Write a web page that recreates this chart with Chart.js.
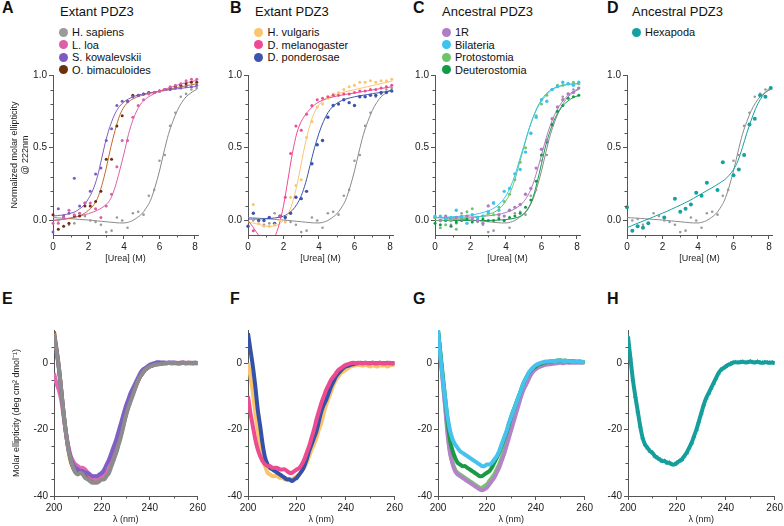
<!DOCTYPE html>
<html><head><meta charset="utf-8">
<script src="https://cdn.jsdelivr.net/npm/chart.js@4/dist/chart.umd.min.js"></script>
<style>
html,body{margin:0;padding:0;background:#fff;}
body{width:784px;height:526px;position:relative;overflow:hidden;font-family:"Liberation Sans",Arial,Helvetica,sans-serif;color:#111;}
canvas{position:absolute;}
.pl{position:absolute;font-weight:bold;font-size:16px;line-height:16px;}
.pt{position:absolute;font-size:13px;line-height:13px;white-space:nowrap;}
.lg{position:absolute;font-size:11px;line-height:12px;height:12px;display:flex;align-items:center;white-space:nowrap;}
.lg i{display:inline-block;width:9px;height:9px;border-radius:50%;margin-right:4.5px;}
</style></head><body>
<div class="pl" style="left:2px;top:0">A</div>
<div class="pl" style="left:230px;top:0">B</div>
<div class="pl" style="left:413px;top:0">C</div>
<div class="pl" style="left:607px;top:0">D</div>
<div class="pl" style="left:2px;top:291px">E</div>
<div class="pl" style="left:230px;top:291px">F</div>
<div class="pl" style="left:413px;top:291px">G</div>
<div class="pl" style="left:607px;top:291px">H</div>
<div class="pt" style="left:60px;top:5px">Extant PDZ3</div>
<div class="pt" style="left:255px;top:5px">Extant PDZ3</div>
<div class="pt" style="left:442px;top:5px">Ancestral PDZ3</div>
<div class="pt" style="left:632px;top:5px">Ancestral PDZ3</div>
<div id="legends"></div>
<canvas id="cA" width="208" height="200" style="left:0;top:67px"></canvas>
<canvas id="cB" width="190" height="200" style="left:213px;top:67px"></canvas>
<canvas id="cC" width="190" height="200" style="left:400px;top:67px"></canvas>
<canvas id="cD" width="190" height="200" style="left:592px;top:67px"></canvas>
<canvas id="cE" width="208" height="204" style="left:0;top:322px"></canvas>
<canvas id="cF" width="192" height="204" style="left:213px;top:322px"></canvas>
<canvas id="cG" width="192" height="204" style="left:403px;top:322px"></canvas>
<canvas id="cH" width="192" height="204" style="left:593px;top:322px"></canvas>
<script>
// ---------- DATA ----------
const ureaPts = [0,0.3,0.6,0.9,1.2,1.5,1.8,2.1,2.4,2.7,3.0,3.3,3.6,3.9,4.2,4.5,4.8,5.1,5.4,5.7,6.0,6.3,6.6,6.9,7.2,7.5,7.8,8.1];
const hSapiensPts = [null,0.0,0.01,-0.03,-0.02,0.05,0.03,0.0,-0.01,-0.03,-0.08,-0.07,0.02,0.0,-0.05,0.05,0.06,0.04,0.17,0.21,0.41,0.45,0.65,0.74,0.85,0.87,0.9,0.91];
const lLoaPts = [-0.02,-0.02,0.02,0.07,0.04,0.05,0.12,0.12,0.08,0.02,0.1,0.18,0.37,0.55,0.55,0.71,0.79,0.83,0.87,0.88,0.89,0.9,0.92,0.93,0.94,0.96,0.97,0.97];
const sKowPts = [-0.08,0.08,0.03,0.05,0.29,0.1,0.12,0.2,0.32,0.36,0.55,0.63,0.79,0.82,0.82,0.85,0.86,0.87,0.88,0.88,0.89,0.9,0.9,0.91,0.91,0.92,0.92,0.93];
const oBimPts = [0.04,-0.06,-0.04,-0.02,0.03,0.03,0.1,0.1,0.13,0.2,0.42,0.42,0.65,0.72,0.82,0.86,0.86,0.87,0.88,0.88,0.89,0.9,0.91,0.92,0.93,0.94,0.95,0.95];
const hVulPts = [null,0.11,-0.02,-0.04,-0.04,-0.03,0.0,-0.01,0.16,0.24,0.28,0.57,0.68,0.78,0.8,0.84,0.87,0.88,0.9,0.92,0.93,0.95,0.95,0.96,0.95,0.96,0.96,0.97];
const dMelPts = [null,-0.07,null,null,null,null,0.03,0.16,0.46,0.65,0.62,0.73,0.79,0.83,0.84,0.85,0.86,0.86,0.87,0.87,0.88,0.89,0.89,0.9,0.9,0.91,0.92,0.93];
const dPonPts = [-0.04,0.05,0.0,0.0,0.02,-0.02,0.03,0.02,0.05,0.16,0.15,0.2,0.39,0.52,0.55,0.71,0.79,0.8,0.83,0.81,0.79,0.85,0.85,0.86,0.86,0.88,0.88,0.89];
const oneRPts = [0.02,0.0,0.03,0.0,0.02,0.01,0.03,0.01,0.0,-0.02,0.1,0.12,0.04,0.03,0.07,0.09,0.11,0.18,0.22,0.36,0.49,0.55,0.7,0.78,0.83,0.87,0.88,0.91];
const bilPts = [0.03,0.03,0.01,0.02,0.07,0.03,-0.02,0.04,0.02,0.03,0.06,0.12,0.07,0.2,0.22,0.32,0.35,0.47,0.6,0.71,0.83,0.82,0.9,0.92,0.95,0.94,0.93,0.95];
const protoPts = [0.02,-0.05,-0.03,0.0,-0.06,0.02,0.06,0.08,0.02,0.03,0.05,0.04,0.09,0.13,0.18,0.28,0.4,0.5,0.6,0.72,0.8,0.86,0.9,0.93,0.93,0.94,0.95,0.94];
const deutPts = [-0.02,-0.03,0.0,-0.04,-0.01,0.0,0.01,-0.01,0.0,0.01,0.0,0.0,0.01,0.0,0.02,0.03,0.05,0.09,0.14,0.27,0.45,0.54,0.66,0.75,0.79,0.84,0.85,0.86];
const hexPts = [0.09,-0.07,-0.04,-0.05,-0.02,null,null,0.02,null,0.15,0.06,0.08,0.11,0.19,0.17,0.26,null,0.21,0.4,null,0.31,0.35,0.45,0.66,0.7,0.86,0.85,0.91];

const fitUrea = [0,0.25,0.5,0.75,1,1.25,1.5,1.75,2,2.25,2.5,2.75,3,3.25,3.5,3.75,4,4.25,4.5,4.75,5,5.25,5.5,5.75,6,6.25,6.5,6.75,7,7.25,7.5,7.75,8,8.1];
const hSapiensFit = [0.02,0.018,0.016,0.014,0.012,0.01,0.007,0.005,0.003,0.0,-0.003,-0.006,-0.009,-0.012,-0.015,-0.017,-0.017,-0.012,0.0,0.02,0.045,0.085,0.14,0.23,0.34,0.47,0.59,0.68,0.755,0.81,0.85,0.875,0.895,0.9];
const sKowFit = [0.03,0.033,0.037,0.042,0.05,0.06,0.08,0.105,0.15,0.21,0.3,0.43,0.56,0.66,0.735,0.785,0.815,0.835,0.85,0.86,0.867,0.873,0.878,0.883,0.888,0.892,0.897,0.901,0.905,0.909,0.913,0.917,0.92,0.921];
const oBimFit = [0,0.003,0.006,0.01,0.015,0.022,0.032,0.047,0.07,0.1,0.15,0.24,0.36,0.5,0.62,0.72,0.78,0.815,0.835,0.85,0.86,0.868,0.875,0.882,0.89,0.896,0.902,0.908,0.914,0.92,0.926,0.932,0.937,0.939];
const lLoaFit = [0,0.004,0.008,0.013,0.018,0.024,0.03,0.038,0.047,0.057,0.07,0.087,0.11,0.15,0.23,0.34,0.46,0.59,0.69,0.76,0.81,0.838,0.858,0.875,0.89,0.9,0.91,0.92,0.93,0.94,0.947,0.954,0.96,0.962];
const hVulFit = [-0.01,-0.017,-0.024,-0.032,-0.038,-0.041,-0.038,-0.025,0.0,0.045,0.12,0.24,0.39,0.54,0.66,0.745,0.795,0.825,0.845,0.858,0.868,0.877,0.885,0.892,0.899,0.906,0.913,0.92,0.927,0.934,0.941,0.948,0.955,0.957];
const dMelFit = [0,-0.04,-0.085,-0.125,-0.15,-0.155,-0.115,-0.03,0.1,0.28,0.46,0.6,0.68,0.73,0.765,0.795,0.815,0.83,0.84,0.848,0.855,0.861,0.867,0.872,0.877,0.882,0.887,0.892,0.897,0.902,0.907,0.912,0.917,0.919];
const dPonFit = [0.01,0.01,0.01,0.011,0.012,0.014,0.017,0.022,0.03,0.045,0.07,0.11,0.17,0.26,0.38,0.5,0.6,0.68,0.74,0.78,0.805,0.822,0.834,0.843,0.85,0.856,0.861,0.866,0.871,0.876,0.88,0.885,0.89,0.891];
const bilFit = [0.02,0.021,0.022,0.023,0.025,0.027,0.03,0.033,0.037,0.042,0.048,0.056,0.066,0.08,0.1,0.13,0.17,0.23,0.31,0.41,0.51,0.61,0.7,0.77,0.82,0.86,0.89,0.91,0.922,0.93,0.935,0.938,0.94,0.94];
const protoFit = [0,0.001,0.002,0.004,0.006,0.008,0.011,0.014,0.018,0.022,0.027,0.033,0.041,0.052,0.068,0.095,0.135,0.195,0.28,0.39,0.5,0.61,0.7,0.775,0.83,0.87,0.895,0.912,0.923,0.93,0.935,0.938,0.94,0.94];
const oneRFit = [0.02,0.02,0.02,0.021,0.021,0.022,0.022,0.023,0.024,0.025,0.027,0.029,0.032,0.035,0.04,0.046,0.055,0.066,0.08,0.1,0.13,0.175,0.245,0.34,0.45,0.56,0.655,0.73,0.785,0.83,0.86,0.885,0.9,0.905];
const deutFit = [0,0,0,0,0,0,0,0,0,0,0,0,0,0.001,0.002,0.004,0.006,0.01,0.016,0.026,0.045,0.08,0.15,0.26,0.39,0.52,0.62,0.7,0.755,0.795,0.822,0.842,0.855,0.858];
const hexFit = [-0.05,-0.037,-0.024,-0.012,0.0,0.012,0.025,0.038,0.05,0.063,0.077,0.091,0.105,0.12,0.135,0.152,0.17,0.187,0.205,0.222,0.24,0.26,0.28,0.31,0.35,0.41,0.5,0.6,0.69,0.77,0.83,0.875,0.905,0.912];

const lambda = [200,201,202,203,204,205,206,207,208,209,210,211,212,213,214,215,216,217,218,219,220,221,222,223,224,225,226,227,228,229,230,231,232,233,234,235,236,237,238,239,240,241,242,243,244,245,246,247,248,249,250,251,252,253,254,255,256,257,258,259,260];
const eHSapiens = [9,4,-1,-8,-15,-21,-26,-29,-31.5,-33, -33.5,-33,-33.5,-34.5,-35,-35.5,-36,-36,-36,-35.5, -35,-35,-34,-33,-31,-29,-27,-24.5,-22,-19, -16,-13.5,-11.5,-9.5,-7.5,-5.5,-4,-3,-2,-1.5, -1,-0.8,-0.5,-0.4,-0.3,-0.2,-0.1,0,0.1,0, 0.1,0,-0.1,0,0.1,0,0.1,0,0,0.1, 0];
const eSKow = [8.5,4,-1.5,-8,-15,-21,-25.5,-28.5,-30.5,-31.5, -32,-32.5,-32.5,-33,-33,-33.5,-34,-34,-34,-33.5, -33,-32,-30.5,-29,-27,-25,-23,-20.5,-18,-15.5, -13,-11,-9,-7.5,-6,-4.5,-3,-2,-1.5,-1, -0.5,-0.2,0,0.3,0.3,0.2,0.2,0.1,0.2,0.1, 0.2,0.1,0,0.1,0.2,0.1,0.1,0,0.1,0.1, 0];
const eOBim = [9.5,4.5,-1,-8,-15,-21,-26,-29.5,-31.5,-32.5, -33,-33,-33,-33.5,-34,-34.5,-35,-35,-35,-34.5, -34,-33.5,-33,-32,-30.5,-28.5,-26.5,-24,-21.5,-18.5, -15.5,-13,-11,-9,-7,-5.5,-4,-3,-2,-1.5, -1,-0.7,-0.5,-0.3,-0.2,-0.1,0,0,0.1,0, 0,0.1,0,0,0.1,0,0,0.1,0,0, 0];
const eLLoa = [-3,-6,-8,-11,-16,-21,-25,-28,-29.5,-30.5, -31,-31.5,-31.5,-32,-33,-34,-34.5,-35,-35,-34.5, -34,-33.5,-33,-32,-30,-28,-26,-23.5,-21,-18.5, -15.5,-13,-11,-9,-7,-5.5,-4,-3,-2,-1.5, -1,-0.6,-0.4,-0.2,-0.1,0,0.1,0,0.1,0.2, 0.1,0,0.1,0.2,0.1,0,0.1,0.1,0,0.1, 0];
const fDPon = [9,4,-1,-7,-14,-19,-24.5,-28.5,-30.5,-31.5, -32,-32.5,-33,-33.5,-34,-34.5,-35,-35,-35.5,-35, -34.5,-33.5,-32.5,-31,-29,-26.5,-24.5,-22.5,-20.5,-17.5, -14.5,-12.5,-11,-9,-7,-5.5,-4,-3,-2.2,-1.5, -1,-0.8,-0.5,-0.3,-0.1,0,0.1,0,0.1,0, 0,0.1,0,0,0.1,0,0,0.1,0,0, 0];
const fHVul = [0,-4,-9,-15,-20,-25,-28.5,-31,-33,-33.5, -34,-34,-34,-34.5,-34.5,-35,-35,-35,-35,-34.5, -34,-33.5,-32.5,-31.5,-30,-28,-26,-24.5,-22.5,-20, -18,-15,-12.5,-10.5,-8.5,-6.5,-5,-4,-3,-2.5, -2,-1.5,-1,-0.8,-0.6,-0.5,-0.6,-0.8,-0.5,-0.7, -1,-0.6,-0.8,-1,-0.5,-0.8,-0.6,-1,-0.7,-0.5, -0.6];
const fDMel = [-10,-15,-19,-23,-26,-28,-29.5,-30.5,-31,-31, -31.5,-31.5,-31.5,-32,-32,-32,-32.5,-33,-33,-32.5, -32,-31.5,-30.5,-29,-27,-25,-22.5,-20,-17,-14.5, -12,-10,-8,-6.5,-5,-4,-3,-2,-1.5,-1, -0.5,-0.3,0,0.1,0,0.1,0,0,0.1,0, 0,0.1,0,0,0.1,0,0,0,0.1,0, 0];
const gBil = [10,2,-5,-11,-16.5,-20.5,-23,-24.5,-25.5,-26.5, -27,-27.5,-28,-28.5,-29,-29.5,-30,-30.5,-31,-31, -30.5,-30.5,-30,-29,-28,-26.5,-24.5,-22.5,-20.5,-18, -16,-14,-12,-10,-8,-6,-4.5,-3,-2,-1.2, -0.6,-0.2,0.1,0.3,0.5,0.5,0.6,0.7,0.6,0.8, 0.8,0.7,0.6,0.7,0.5,0.5,0.4,0.5,0.3,0.4, 0.3];
const gDeut = [10,3,-4,-11,-18,-23.5,-26.5,-28.5,-30,-30.5, -31,-31,-31.5,-32,-32.5,-33,-33.5,-34,-34,-33.5, -33,-32.5,-31.5,-30,-28.5,-27,-25,-23,-21,-18.5, -16,-14,-12,-10,-8,-6,-4.5,-3.2,-2.2,-1.5, -1,-0.5,-0.2,0,0.3,0.4,0.5,0.6,0.7,0.8, 0.8,0.7,0.8,0.6,0.5,0.6,0.5,0.4,0.5,0.3, 0.4];
const g1R = [9.5,2,-6,-14,-22,-27.5,-30.5,-32.5,-33.5,-34, -34.5,-35,-35.5,-36,-36.5,-37,-37.5,-38,-38.3,-38, -37.5,-36.5,-35.5,-34.5,-33,-31.5,-29.5,-27.5,-25,-22.5, -20,-17.5,-15,-12.5,-10,-8,-6.5,-5,-3.5,-2.5, -1.8,-1.3,-1,-0.7,-0.5,-0.4,-0.3,-0.2,-0.1,0, 0.1,0,0.1,0.2,0.1,0.2,0.1,0.2,0.1,0.2, 0.2];
const gProto = [10,2.5,-5.5,-13,-21,-27,-30,-32,-33,-33.5, -34,-34.5,-35,-35.5,-36,-36.5,-37,-37.5,-37.5,-37, -36.5,-35.5,-34.5,-33.5,-32,-30.5,-28.5,-26.5,-24,-21.5, -19,-16.5,-14,-11.5,-9.5,-7.5,-6,-4.5,-3.2,-2.2, -1.5,-1,-0.6,-0.3,0,0.2,0.4,0.5,0.6,0.7, 0.8,0.7,0.6,0.7,0.6,0.5,0.5,0.4,0.5,0.4, 0.3];
const hHex = [8,1.5,-5,-10,-14.5,-19,-22.5,-24.5,-25.5,-26.5, -27,-28,-28.5,-29,-29.5,-29.5,-30,-30,-30.5,-30.5, -30,-29.5,-29,-28,-27,-25.5,-24,-22,-20,-17.5, -15,-12.5,-10.5,-9,-7.5,-6,-4.5,-3,-2,-1.5, -1,-0.5,-0.2,0.2,0.3,0.2,0.3,0.4,0.2,0.3, 0.5,0.3,0.2,0.4,0.2,0.1,0.3,0.2,0.1,0.2, 0];

const topXTicks = [0,2,4,6,8], topXMinor = [1,3,5,7];
const topYTicks = [0,0.5,1.0], topYMinor = [0.1,0.2,0.3,0.4,0.6,0.7,0.8,0.9];
const botXTicks = [200,220,240,260], botXMinor = [210,230,250];
const botYTicks = [-40,-20,0], botYMinor = [5,-5,-10,-15,-25,-30,-35];

// ---------- STYLE ----------
const C = {
  gray:'#9a9a9a', grayLine:'#8a8a8a',
  lLoa:'#dd5fa6', sKow:'#7c5cc0', oBim:'#6b3010', oBimLine:'#c46a28',
  hVul:'#fcc470', dMel:'#ee4a92', dPon:'#3d54ad',
  oneR:'#b07cc4', bil:'#3cc3ef', proto:'#6dc46b', deut:'#139a48', hex:'#15a19f'
};
const FONT = '"Liberation Sans", Arial, Helvetica, sans-serif';
const AXIS = '#555';
Chart.defaults.font.family = FONT;

// legends (HTML)
const legends = [
  {x:58.5, y:[32,44.5,57,69.5], items:[['H. sapiens',C.gray],['L. loa',C.lLoa],['S. kowalevskii',C.sKow],['O. bimaculoides',C.oBim]]},
  {x:254, y:[32,44.5,57], items:[['H. vulgaris',C.hVul],['D. melanogaster',C.dMel],['D. ponderosae',C.dPon]]},
  {x:441.5, y:[32,44.5,57,69.5], items:[['1R',C.oneR],['Bilateria',C.bil],['Protostomia',C.proto],['Deuterostomia',C.deut]]},
  {x:631.5, y:[32], items:[['Hexapoda',C.hex]]}
];
const lgRoot = document.getElementById('legends');
legends.forEach(L => L.items.forEach((it,i) => {
  const d = document.createElement('div'); d.className='lg';
  d.style.left = L.x+'px'; d.style.top = (L.y[i]-6)+'px';
  d.innerHTML = '<i style="background:'+it[1]+'"></i>'+it[0];
  lgRoot.appendChild(d);
}));

const minorTicks = {
  id:'minorTicks',
  afterDraw(chart, args, o){
    const ctx = chart.ctx, sx = chart.scales.x, sy = chart.scales.y;
    ctx.save(); ctx.strokeStyle = AXIS; ctx.lineWidth = 1; ctx.beginPath();
    (o.x||[]).forEach(v => { const p = Math.round(sx.getPixelForValue(v))+0.5; ctx.moveTo(p, sy.bottom); ctx.lineTo(p, sy.bottom+o.len); });
    (o.y||[]).forEach(v => { const p = Math.round(sy.getPixelForValue(v))+0.5; ctx.moveTo(sx.left, p); ctx.lineTo(sx.left-o.len, p); });
    ctx.stroke(); ctx.restore();
  }
};
Chart.register(minorTicks);

function pairs(xs, ys){ return xs.map((x,i)=>({x:x, y:ys[i]})).filter(p=>p.y!==null); }
function fitDS(ys, color){ return {data:pairs(fitUrea, ys), showLine:true, borderColor:color, borderWidth:1, pointRadius:0, cubicInterpolationMode:'monotone', fill:false}; }
function ptsDS(ys, color, r){ return {data:pairs(ureaPts, ys), showLine:false, backgroundColor:color, borderColor:color, borderWidth:0, pointRadius:r||1.5, clip:8}; }
function specDS(ys, color, w, style){ return {data:pairs(lambda, ys), showLine:true, borderColor:color, backgroundColor:color, borderWidth:w||4, pointRadius: style?2.8:0, pointStyle: style||'circle', pointBorderWidth:0, tension:0.3, fill:false}; }

function make(id, datasets, g){
  const tickFont = {size:10, family:FONT};
  new Chart(document.getElementById(id), {
    type:'scatter',
    data:{datasets:datasets},
    options:{
      responsive:false, animation:false, devicePixelRatio:1,
      layout:{padding:{top:8, right:g.padR, left:0, bottom:0}},
      plugins:{legend:{display:false}, tooltip:{enabled:false}, minorTicks:{x:g.xMinor, y:g.yMinor, len:2.5}},
      scales:{
        x:{type:'linear', min:g.xMin, max:g.xMax,
          border:{color:AXIS, width:1},
          grid:{drawOnChartArea:false, drawTicks:true, tickLength:4, color:AXIS},
          ticks:{color:'#222', font:tickFont, padding:2, maxRotation:0, autoSkip:false, callback:v=>String(v)},
          afterBuildTicks:s=>{ s.ticks = g.xTicks.map(v=>({value:v})); },
          afterFit:s=>{ s.height = g.xH; },
          title:{display:true, text:g.xTitle, color:'#222', font:{size:9, family:FONT}, padding:{top:0, bottom:g.xTitlePad}}
        },
        y:{type:'linear', min:g.yMin, max:g.yMax,
          border:{color:AXIS, width:1},
          grid:{drawOnChartArea:false, drawTicks:true, tickLength:4, color:AXIS},
          ticks:{color:'#222', font:tickFont, padding:2, autoSkip:false, callback:g.yFmt},
          afterBuildTicks:s=>{ s.ticks = g.yTicks.map(v=>({value:v})); },
          afterFit:s=>{ s.width = g.yW; },
          title:{display:!!g.yTitle, text:g.yTitle||'', color:'#222', font:{size:9, family:FONT}, padding:{top:g.yTitlePad||0, bottom:0}}
        }
      }
    }
  });
}

const topBase = {xMin:0, xMax:8.17, xTicks:topXTicks, xMinor:topXMinor, yMin:-0.1, yMax:1.0, yTicks:topYTicks, yMinor:topYMinor,
  xH:32, padR:10, xTitle:'[Urea] (M)', xTitlePad:2.6, yFmt:v=>v.toFixed(1), yW:35};
const botBase = {xMin:200, xMax:260, xTicks:botXTicks, xMinor:botXMinor, yMin:-40, yMax:10, yTicks:botYTicks, yMinor:botYMinor,
  xH:30, padR:10, xTitle:'λ (nm)', xTitlePad:0.6, yFmt:v=>String(v), yW:35};

const grayPts = () => ptsDS(hSapiensPts, C.gray, 1.3);
const grayFit = () => fitDS(hSapiensFit, C.grayLine);

make('cA', [
  ptsDS(lLoaPts, C.lLoa), ptsDS(sKowPts, C.sKow), ptsDS(oBimPts, C.oBim), grayPts(),
  fitDS(lLoaFit, C.lLoa), fitDS(oBimFit, C.oBimLine), fitDS(sKowFit, C.sKow), grayFit()
], Object.assign({}, topBase, {yW:53, yTitle:['Normalized molar ellipticity','@ 222nm'], yTitlePad:9.6}));

make('cB', [
  ptsDS(dMelPts, C.dMel), ptsDS(hVulPts, C.hVul), ptsDS(dPonPts, C.dPon, 1.7), grayPts(),
  fitDS(dMelFit, C.dMel), fitDS(hVulFit, C.hVul), fitDS(dPonFit, C.dPon), grayFit()
], topBase);

make('cC', [
  ptsDS(bilPts, C.bil, 1.7), ptsDS(protoPts, C.proto), ptsDS(oneRPts, C.oneR, 1.7), ptsDS(deutPts, C.deut), grayPts(),
  fitDS(bilFit, C.bil), fitDS(protoFit, C.proto), fitDS(oneRFit, C.oneR), fitDS(deutFit, C.deut), grayFit()
], topBase);

make('cD', [
  ptsDS(hexPts, C.hex, 2), grayPts(),
  fitDS(hexFit, C.hex), grayFit()
], topBase);

make('cE', [
  specDS(eHSapiens, '#8c8c8c'), specDS(eSKow, '#7e5fc2'), specDS(eLLoa, '#dd6ab4'), specDS(eOBim, '#9a4c16')
], Object.assign({}, botBase, {yW:54, yTitle:'Molar ellipticity (deg cm² dmol⁻¹)', yTitlePad:11}));

make('cF', [
  specDS(fDMel, '#ec4c8f'), specDS(fDPon, '#3552a8'), specDS(fHVul, '#fbc46a')
], botBase);

make('cG', [
  specDS(gBil, '#45c3ee'), specDS(gDeut, '#1a9a45'), specDS(g1R, '#b383c8'), specDS(gProto, '#77c56c')
], botBase);

make('cH', [
  specDS(hHex, '#159e9c', 4, 'triangle')
], botBase);
</script>
</body></html>
